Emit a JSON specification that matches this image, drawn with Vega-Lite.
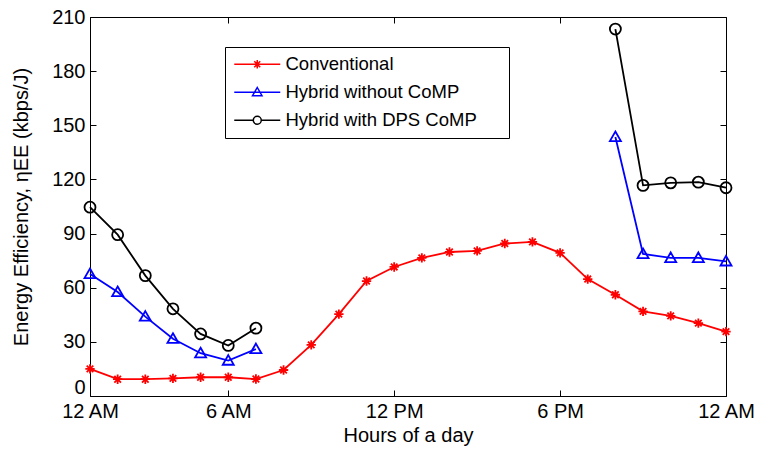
{
  "$schema": "https://vega.github.io/schema/vega-lite/v6.json",
  "width": 636,
  "height": 379,
  "autosize": {"type": "none"},
  "padding": {"left": 90, "top": 17, "right": 36, "bottom": 54},
  "background": "white",
  "config": {
    "font": "Liberation Sans",
    "view": {"stroke": "black", "strokeWidth": 1},
    "axis": {
      "domain": false,
      "tickColor": "black",
      "ticks": true,
      "tickSize": 6,
      "tickWidth": 1,
      "offset": -6,
      "labelColor": "black",
      "titleColor": "black",
      "labelFontSize": 20,
      "titleFontSize": 20,
      "titleFontWeight": "normal",
      "labelFlush": false,
      "grid": false
    }
  },
  "data": {
    "values": [
      {"hour": 1, "value": 15, "series": "Conventional", "part": "a"},
      {"hour": 2, "value": 9.3, "series": "Conventional", "part": "a"},
      {"hour": 3, "value": 9.3, "series": "Conventional", "part": "a"},
      {"hour": 4, "value": 9.8, "series": "Conventional", "part": "a"},
      {"hour": 5, "value": 10.4, "series": "Conventional", "part": "a"},
      {"hour": 6, "value": 10.4, "series": "Conventional", "part": "a"},
      {"hour": 7, "value": 9.4, "series": "Conventional", "part": "a"},
      {"hour": 8, "value": 14.4, "series": "Conventional", "part": "a"},
      {"hour": 9, "value": 28.3, "series": "Conventional", "part": "a"},
      {"hour": 10, "value": 45.4, "series": "Conventional", "part": "a"},
      {"hour": 11, "value": 63.7, "series": "Conventional", "part": "a"},
      {"hour": 12, "value": 71.5, "series": "Conventional", "part": "a"},
      {"hour": 13, "value": 76.5, "series": "Conventional", "part": "a"},
      {"hour": 14, "value": 79.8, "series": "Conventional", "part": "a"},
      {"hour": 15, "value": 80.4, "series": "Conventional", "part": "a"},
      {"hour": 16, "value": 84.5, "series": "Conventional", "part": "a"},
      {"hour": 17, "value": 85.4, "series": "Conventional", "part": "a"},
      {"hour": 18, "value": 79.3, "series": "Conventional", "part": "a"},
      {"hour": 19, "value": 64.8, "series": "Conventional", "part": "a"},
      {"hour": 20, "value": 56.1, "series": "Conventional", "part": "a"},
      {"hour": 21, "value": 46.9, "series": "Conventional", "part": "a"},
      {"hour": 22, "value": 44.4, "series": "Conventional", "part": "a"},
      {"hour": 23, "value": 40.4, "series": "Conventional", "part": "a"},
      {"hour": 24, "value": 35.7, "series": "Conventional", "part": "a"},
      {"hour": 1, "value": 67.6, "series": "Hybrid without CoMP", "part": "a"},
      {"hour": 2, "value": 57.6, "series": "Hybrid without CoMP", "part": "a"},
      {"hour": 3, "value": 44, "series": "Hybrid without CoMP", "part": "a"},
      {"hour": 4, "value": 31.7, "series": "Hybrid without CoMP", "part": "a"},
      {"hour": 5, "value": 23.7, "series": "Hybrid without CoMP", "part": "a"},
      {"hour": 6, "value": 19.6, "series": "Hybrid without CoMP", "part": "a"},
      {"hour": 7, "value": 26, "series": "Hybrid without CoMP", "part": "a"},
      {"hour": 20, "value": 143.5, "series": "Hybrid without CoMP", "part": "b"},
      {"hour": 21, "value": 78.7, "series": "Hybrid without CoMP", "part": "b"},
      {"hour": 22, "value": 76.5, "series": "Hybrid without CoMP", "part": "b"},
      {"hour": 23, "value": 76.5, "series": "Hybrid without CoMP", "part": "b"},
      {"hour": 24, "value": 74.6, "series": "Hybrid without CoMP", "part": "b"},
      {"hour": 1, "value": 104.6, "series": "Hybrid with DPS CoMP", "part": "a"},
      {"hour": 2, "value": 89.4, "series": "Hybrid with DPS CoMP", "part": "a"},
      {"hour": 3, "value": 66.7, "series": "Hybrid with DPS CoMP", "part": "a"},
      {"hour": 4, "value": 48.3, "series": "Hybrid with DPS CoMP", "part": "a"},
      {"hour": 5, "value": 34.4, "series": "Hybrid with DPS CoMP", "part": "a"},
      {"hour": 6, "value": 28, "series": "Hybrid with DPS CoMP", "part": "a"},
      {"hour": 7, "value": 37.6, "series": "Hybrid with DPS CoMP", "part": "a"},
      {"hour": 20, "value": 203.3, "series": "Hybrid with DPS CoMP", "part": "b"},
      {"hour": 21, "value": 116.7, "series": "Hybrid with DPS CoMP", "part": "b"},
      {"hour": 22, "value": 118.1, "series": "Hybrid with DPS CoMP", "part": "b"},
      {"hour": 23, "value": 118.5, "series": "Hybrid with DPS CoMP", "part": "b"},
      {"hour": 24, "value": 115.4, "series": "Hybrid with DPS CoMP", "part": "b"}
    ]
  },
  "layer": [
    {
      "mark": {"type": "line", "strokeWidth": 1.8},
      "encoding": {
        "x": {
          "field": "hour", "type": "quantitative",
          "scale": {"domain": [1, 24], "nice": false, "zero": false},
          "axis": {
            "values": [1, 6, 12, 18, 24],
            "labelExpr": "datum.value == 1 ? '12 AM' : datum.value == 6 ? '6 AM' : datum.value == 12 ? '12 PM' : datum.value == 18 ? '6 PM' : '12 AM'",
            "labelPadding": 5,
            "title": "Hours of a day",
            "titlePadding": 4,
            "orient": "bottom"
          }
        },
        "y": {
          "field": "value", "type": "quantitative",
          "scale": {"domain": [0, 210], "nice": false},
          "axis": {
            "values": [0, 30, 60, 90, 120, 150, 180, 210],
            "labelPadding": 5,
            "labelOffset": {"expr": "datum.value === 0 ? -9 : 0"},
            "title": "Energy Efficiency, ηEE (kbps/J)",
            "titlePadding": 20,
            "orient": "left"
          }
        },
        "color": {
          "field": "series", "type": "nominal",
          "scale": {
            "domain": ["Conventional", "Hybrid without CoMP", "Hybrid with DPS CoMP"],
            "range": ["#ff0000", "#0000ff", "#000000"]
          },
          "legend": {
            "title": null,
            "orient": "none",
            "legendX": 135,
            "legendY": 30,
            "strokeColor": "black",
            "fillColor": "white",
            "padding": 8,
            "labelFontSize": 18.5,
            "labelColor": "black",
            "labelLimit": 400,
            "labelOffset": 34,
            "rowPadding": 9,
            "symbolSize": 100,
            "encode": {
              "symbols": {
                "update": {
                  "shape": {"signal": "datum.value === 'Conventional' ? 'M-1.6,0H7.6M2.15,0H3.85M3,-0.85V0.85M2.4,-0.6L3.6,0.6M2.4,0.6L3.6,-0.6M51,0' : datum.value === 'Hybrid without CoMP' ? 'M-1.6,0H7.6M3,-0.95L3.95,0.7L2.05,0.7Z' : 'M-1.6,0H2.2M3.8,0H7.6M3.8,0A0.8,0.8 0 1,1 2.2,0A0.8,0.8 0 1,1 3.8,0'"},
                  "stroke": {"scale": "color", "field": "value"},
                  "fill": {"value": "transparent"},
                  "strokeWidth": {"value": 1.5},
                  "size": {"value": 100}
                }
              }
            }
          }
        },
        "detail": {"field": "part", "type": "nominal"}
      }
    },
    {
      "transform": [{"filter": "datum.series === 'Conventional'"}],
      "mark": {"type": "point", "filled": false, "strokeWidth": 1.8, "opacity": 1, "size": 121, "shape": "M-0.85,0H0.85M0,-0.85V0.85M-0.6,-0.6L0.6,0.6M-0.6,0.6L0.6,-0.6", "color": "#ff0000"},
      "encoding": {
        "x": {"field": "hour", "type": "quantitative", "scale": {"domain": [1, 24], "nice": false, "zero": false},
          "axis": {"values": [1, 6, 12, 18, 24], "labels": false, "title": null, "orient": "top"}},
        "y": {"field": "value", "type": "quantitative", "scale": {"domain": [0, 210], "nice": false},
          "axis": {"values": [0, 30, 60, 90, 120, 150, 180, 210], "labels": false, "title": null, "orient": "right"}}
      }
    },
    {
      "transform": [{"filter": "datum.series === 'Hybrid without CoMP'"}],
      "mark": {"type": "point", "filled": false, "strokeWidth": 1.8, "opacity": 1, "size": 121, "shape": "M0,-1L1,0.75L-1,0.75Z", "color": "#0000ff"},
      "encoding": {
        "x": {"field": "hour", "type": "quantitative", "axis": null},
        "y": {"field": "value", "type": "quantitative", "axis": null}
      }
    },
    {
      "transform": [{"filter": "datum.series === 'Hybrid with DPS CoMP'"}],
      "mark": {"type": "point", "filled": false, "strokeWidth": 1.8, "opacity": 1, "size": 121, "shape": "circle", "color": "#000000"},
      "encoding": {
        "x": {"field": "hour", "type": "quantitative", "axis": null},
        "y": {"field": "value", "type": "quantitative", "axis": null}
      }
    }
  ],
  "resolve": {"axis": {"x": "independent", "y": "independent"}}
}
